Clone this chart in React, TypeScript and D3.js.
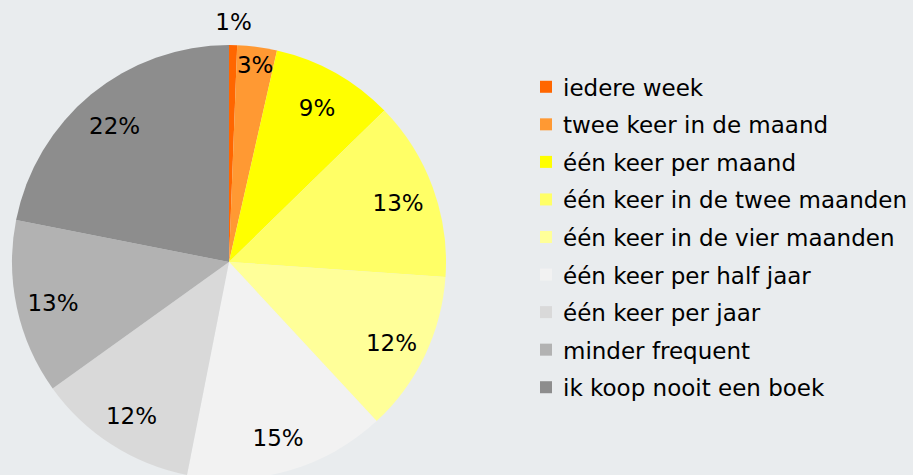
import React from "react";
import * as d3 from "d3";

const categories = [
  "iedere week",
  "twee keer in de maand",
  "één keer per maand",
  "één keer in de twee maanden",
  "één keer in de vier maanden",
  "één keer per half jaar",
  "één keer per jaar",
  "minder frequent",
  "ik koop nooit een boek",
];
// shares in percent, read from the slice edges (labels show them rounded)
const values = [0.6, 2.95, 9.15, 13.4, 12.0, 15.0, 12.0, 13.0, 21.9];
const colors = [
  "#FF6600",
  "#FF9933",
  "#FFFF00",
  "#FFFF66",
  "#FFFF99",
  "#F2F2F2",
  "#D9D9D9",
  "#B2B2B2",
  "#8D8D8D",
];

const W = 913;
const H = 475;
const cx = 229;
const cy = 262;
const R = 217;
const FONT = "'DejaVu Sans', Verdana, sans-serif";

export default function App() {
  const pie = d3.pie<number>().sort(null).value((d) => d)(values);
  const arc = d3.arc<d3.PieArcDatum<number>>().innerRadius(0).outerRadius(R);
  const total = d3.sum(values);

  const labelPos = (a: d3.PieArcDatum<number>) => {
    const share = a.data / total;
    const r = share < 0.02 ? R + 26 : share < 0.05 ? R * 0.93 : R * 0.83;
    const m = (a.startAngle + a.endAngle) / 2;
    return [Math.sin(m) * r, -Math.cos(m) * r + 3];
  };

  const legendY = d3.scaleBand<number>().domain(d3.range(categories.length)).range([68, 406]);

  return (
    <svg
      width={W}
      height={H}
      style={{ position: "absolute", left: 0, top: 0, background: "#E9ECEE" }}
      fontFamily={FONT}
    >
      <rect width={W} height={H} fill="#E9ECEE" />
      <g transform={`translate(${cx},${cy})`}>
        {pie.map((a, i) => (
          <path key={i} d={arc(a) || ""} fill={colors[i]} />
        ))}
        {pie.map((a, i) => {
          const [x, y] = labelPos(a);
          return (
            <text
              key={i}
              x={x}
              y={y}
              textAnchor="middle"
              dominantBaseline="central"
              fontSize={23}
              fill="#000"
            >
              {`${Math.round(a.data)}%`}
            </text>
          );
        })}
      </g>
      <g>
        {categories.map((c, i) => {
          const y = (legendY(i) || 0) + legendY.bandwidth() / 2;
          return (
            <g key={i}>
              <rect x={540} y={y - 6} width={12} height={12} fill={colors[i]} />
              <text x={563} y={y + 1} dominantBaseline="central" fontSize={23} fill="#000">
                {c}
              </text>
            </g>
          );
        })}
      </g>
    </svg>
  );
}
